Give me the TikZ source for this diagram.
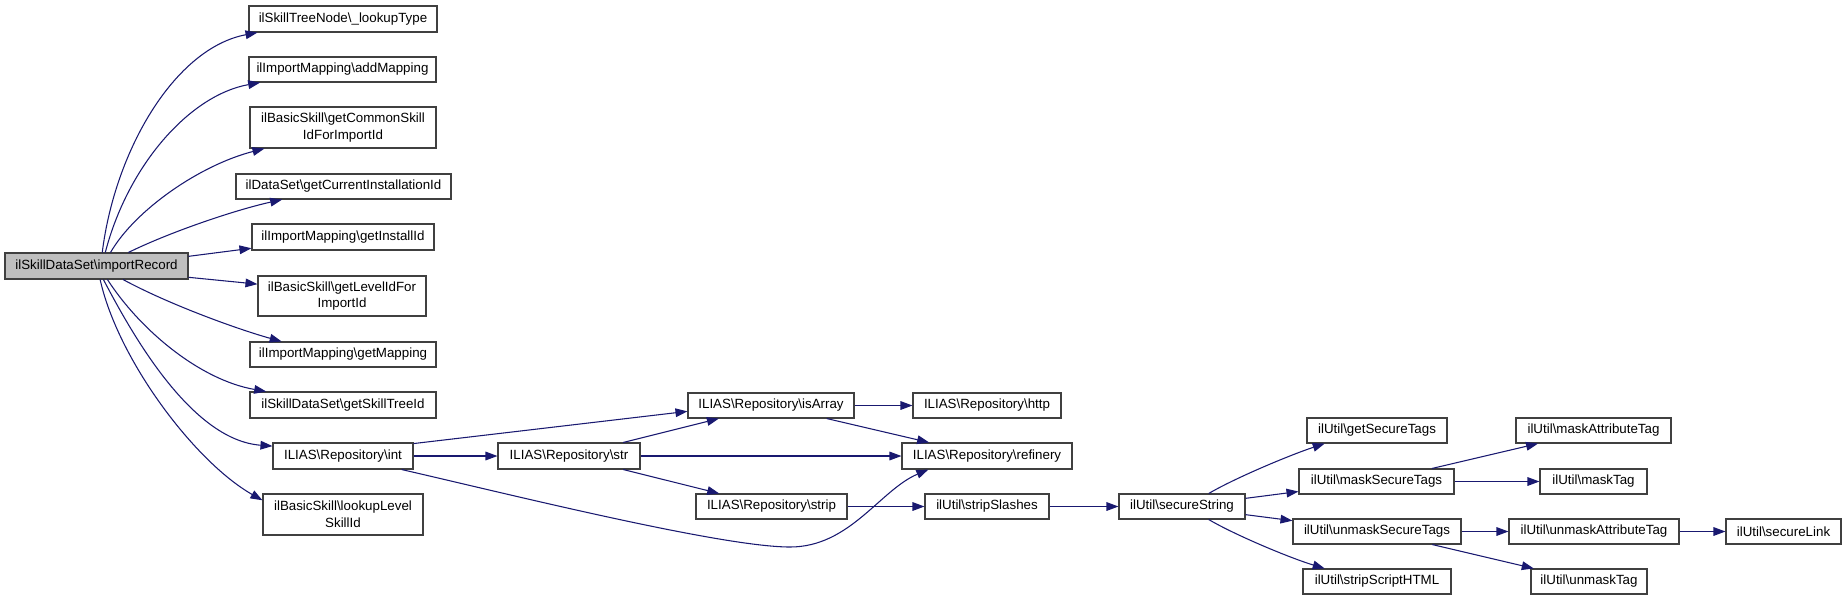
\documentclass[tikz,border=0pt]{standalone}
\usepackage{fontspec}
\setmainfont{Liberation Sans}
\usetikzlibrary{arrows.meta}
\definecolor{edgeblue}{HTML}{191970}
\definecolor{boxline}{HTML}{404040}
\definecolor{curfill}{HTML}{BFBFBF}
\newcommand{\BSL}{\textbackslash}
\newcommand{\gnode}[6]{\node[box, minimum width=#4*0.75pt, minimum height=#5*0.75pt] (#1) at (#2,#3) {#6};}
\begin{document}
\begin{tikzpicture}[x=0.75pt,y=-0.75pt,
  box/.style={draw=boxline, line width=0.8pt, fill=white, inner sep=0pt, align=center,
    font=\fontsize{10pt}{12.5pt}\selectfont},
  edge/.style={draw=edgeblue, line width=0.8pt, -{Triangle[length=9pt,width=6.5pt]}}]
\useasboundingbox (0,0) rectangle (1847,601);
% root
\node[box, fill=curfill, minimum width=183*0.75pt, minimum height=26*0.75pt] (ir) at (96.5,266) {ilSkillDataSet\BSL importRecord};
% column 1
\gnode{lt}{343}{19}{188}{26}{ilSkillTreeNode\BSL\_lookupType}
\gnode{am}{342.5}{69.5}{187}{25}{ilImportMapping\BSL addMapping}
\gnode{gcs}{343}{127.5}{186}{41}{ilBasicSkill\BSL getCommonSkill\\IdForImportId}
\gnode{gci}{343.5}{186.5}{215}{25}{ilDataSet\BSL getCurrentInstallationId}
\gnode{gii}{343}{237}{182}{26}{ilImportMapping\BSL getInstallId}
\gnode{gli}{342}{296}{168}{40}{ilBasicSkill\BSL getLevelIdFor\\ImportId}
\gnode{gm}{343}{354.5}{186}{25}{ilImportMapping\BSL getMapping}
\gnode{gst}{343}{405}{186}{26}{ilSkillDataSet\BSL getSkillTreeId}
\gnode{int}{343}{456}{140}{26}{ILIAS\BSL Repository\BSL int}
\gnode{lls}{343}{514.5}{160}{41}{ilBasicSkill\BSL lookupLevel\\SkillId}
% column 2
\gnode{isa}{771}{405.5}{166}{25}{ILIAS\BSL Repository\BSL isArray}
\gnode{str}{569}{456}{142}{26}{ILIAS\BSL Repository\BSL str}
\gnode{strip}{771.5}{506.5}{151}{25}{ILIAS\BSL Repository\BSL strip}
\gnode{http}{987}{405.5}{148}{25}{ILIAS\BSL Repository\BSL http}
\gnode{ref}{987}{456}{170}{26}{ILIAS\BSL Repository\BSL refinery}
\gnode{ssl}{987}{506.5}{124}{25}{ilUtil\BSL stripSlashes}
\gnode{sst}{1182}{506.5}{126}{25}{ilUtil\BSL secureString}
\gnode{gstg}{1377}{430.5}{140}{25}{ilUtil\BSL getSecureTags}
\gnode{mst}{1376.5}{481.5}{155}{25}{ilUtil\BSL maskSecureTags}
\gnode{ust}{1377}{531.5}{168}{25}{ilUtil\BSL unmaskSecureTags}
\gnode{ssh}{1377}{581.5}{148}{25}{ilUtil\BSL stripScriptHTML}
\gnode{mat}{1593.5}{430.5}{155}{25}{ilUtil\BSL maskAttributeTag}
\gnode{mtg}{1593.5}{481.5}{107}{25}{ilUtil\BSL maskTag}
\gnode{uat}{1594}{531.5}{170}{25}{ilUtil\BSL unmaskAttributeTag}
\gnode{utg}{1589}{581.5}{116}{25}{ilUtil\BSL unmaskTag}
\gnode{slk}{1783.5}{531.5}{115}{25}{ilUtil\BSL secureLink}
% edges from root
\draw[edge] (ir.67) .. controls (115,150) and (175,48) .. (lt.189);
\draw[edge] (ir.57) .. controls (128,165) and (190,95) .. (am.189);
\draw[edge] (ir.44) .. controls (135,210) and (200,165) .. (gcs.195);
\draw[edge] (ir.23) .. controls (170,232) and (235,210) .. (gci.192);
\draw[edge] (ir.6) -- (gii.187);
\draw[edge] (ir.-7.5) -- (gli.172);
\draw[edge] (ir.-27) .. controls (170,305) and (240,330) .. (gm.168);
\draw[edge] (ir.-51) .. controls (140,330) and (200,380) .. (gst.170);
\draw[edge] (ir.-63) .. controls (130,330) and (190,440) .. (int.172);
\draw[edge] (ir.-75) .. controls (118,360) and (195,462) .. (lls.170);
% int
\draw[edge] (int.east) -- (str.west);
\draw[edge] (int.10) -- (isa.184);
\draw[edge] (int.-13.5) .. controls (500,492) and (720,547) .. (790,547)
   .. controls (850,547) and (880,490) .. (ref.193);
% str
\draw[edge] (str) -- (isa);
\draw[edge] (str.east) -- (ref.west);
\draw[edge] (str) -- (strip);
% isArray
\draw[edge] (isa.east) -- (http.west);
\draw[edge] (isa) -- (ref);
% strip chain
\draw[edge] (strip.east) -- (ssl.west);
\draw[edge] (ssl.east) -- (sst.west);
% secureString
\draw[edge] (sst.26) .. controls (1235,478) and (1290,455) .. (gstg.194);
\draw[edge] (sst) -- (mst);
\draw[edge] (sst) -- (ust);
\draw[edge] (sst.-26) .. controls (1235,535) and (1290,558) .. (ssh.166);
% mask / unmask
\draw[edge] (mst) -- (mat);
\draw[edge] (mst.east) -- (mtg.west);
\draw[edge] (ust.east) -- (uat.west);
\draw[edge] (ust) -- (utg);
\draw[edge] (uat.east) -- (slk.west);
\end{tikzpicture}
\end{document}
